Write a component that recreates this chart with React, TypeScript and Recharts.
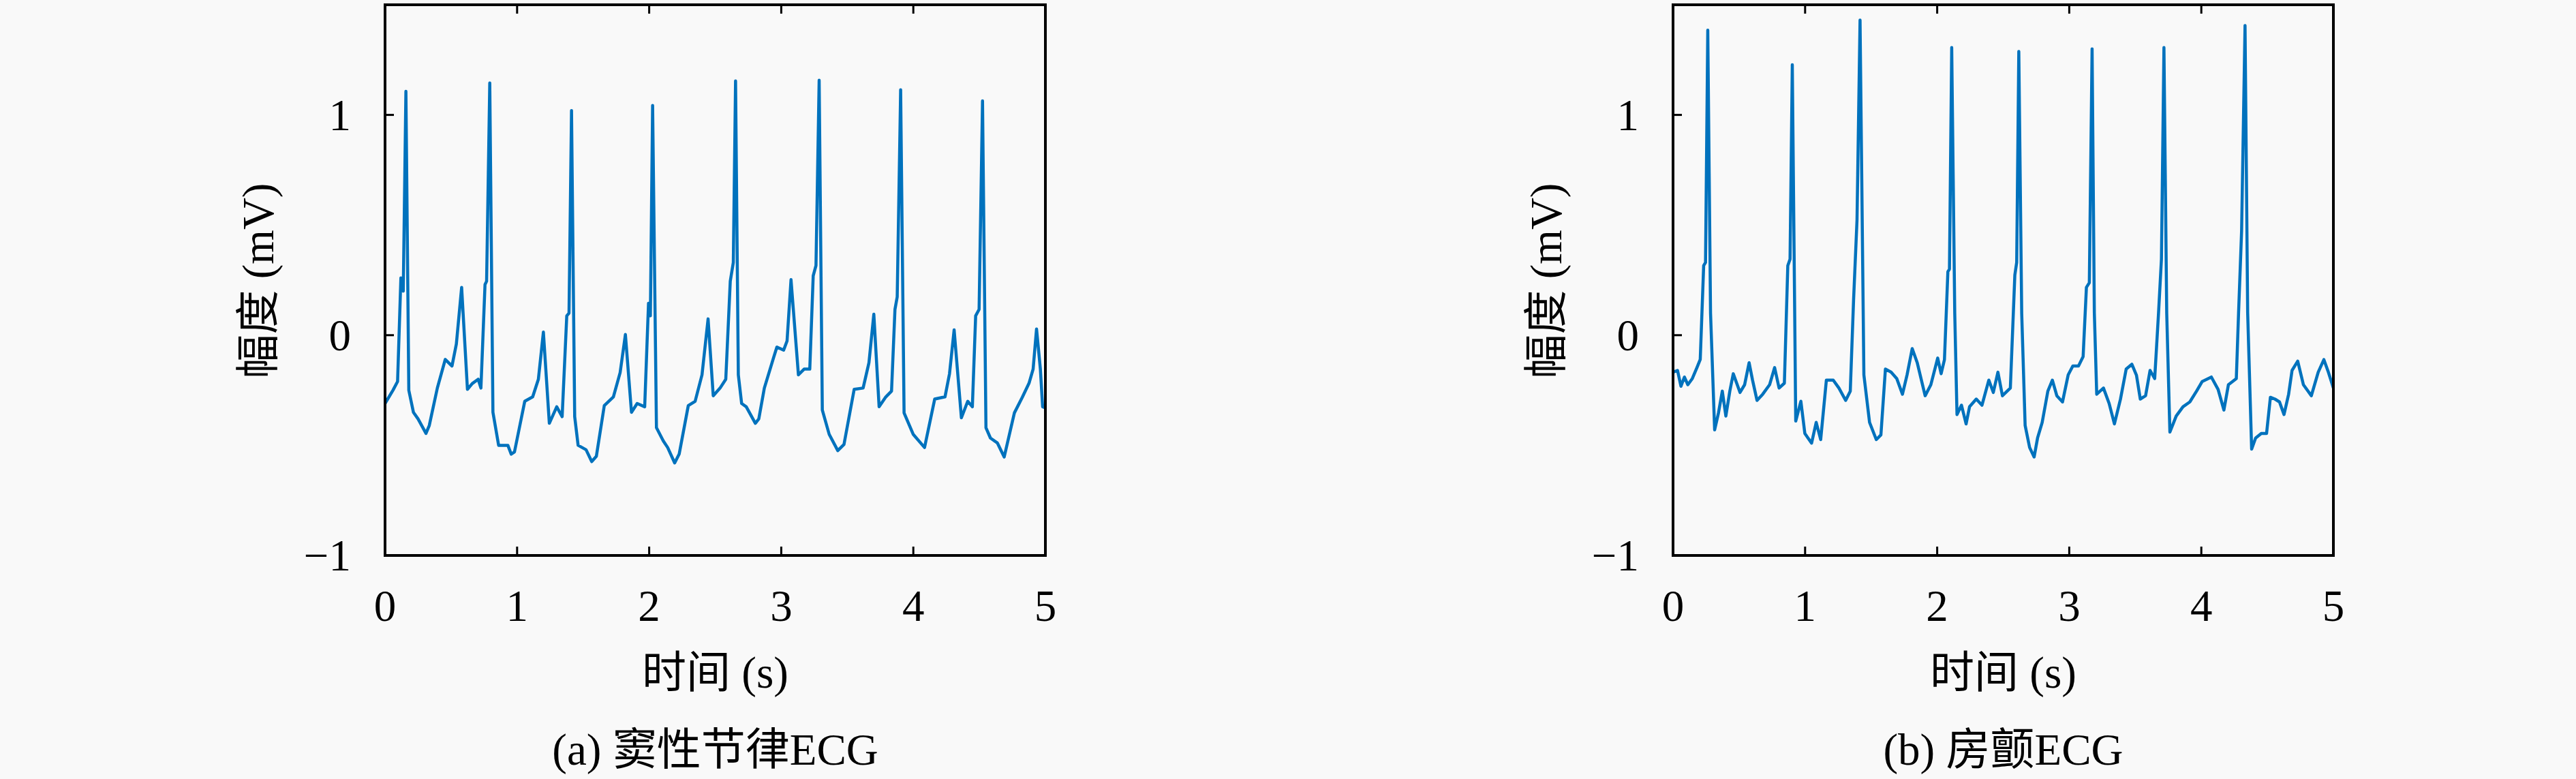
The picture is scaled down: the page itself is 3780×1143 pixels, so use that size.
import React from "react";
import { LineChart, Line, XAxis, YAxis } from "recharts";

// ECG traces: [time (s), amplitude (mV)]
const sinusEcg: [number, number][] = [
  [0.0, -0.31], [0.06, -0.25], [0.095, -0.21], [0.12, 0.26], [0.138, 0.2], [0.158, 1.107],
  [0.18, -0.25], [0.215, -0.35], [0.25, -0.38], [0.31, -0.446], [0.335, -0.41], [0.396, -0.24],
  [0.456, -0.11], [0.507, -0.14], [0.54, -0.04], [0.58, 0.217], [0.624, -0.246], [0.66, -0.22],
  [0.705, -0.2], [0.726, -0.24], [0.757, 0.23], [0.769, 0.245], [0.793, 1.145], [0.817, -0.35],
  [0.86, -0.5], [0.93, -0.5], [0.955, -0.54], [0.98, -0.53], [1.058, -0.3], [1.118, -0.28],
  [1.161, -0.2], [1.199, 0.014], [1.244, -0.4], [1.3, -0.325], [1.341, -0.37], [1.376, 0.088],
  [1.393, 0.1], [1.412, 1.02], [1.436, -0.37], [1.462, -0.5], [1.522, -0.52], [1.565, -0.574],
  [1.6, -0.55], [1.66, -0.32], [1.729, -0.28], [1.78, -0.17], [1.82, 0.003], [1.866, -0.35],
  [1.909, -0.31], [1.966, -0.325], [1.995, 0.145], [2.009, 0.088], [2.026, 1.043], [2.055, -0.42],
  [2.107, -0.48], [2.14, -0.51], [2.193, -0.58], [2.227, -0.54], [2.296, -0.32], [2.348, -0.3],
  [2.4, -0.18], [2.446, 0.074], [2.485, -0.275], [2.537, -0.24], [2.58, -0.2], [2.614, 0.245],
  [2.637, 0.33], [2.654, 1.154], [2.675, -0.18], [2.7, -0.31], [2.735, -0.325], [2.804, -0.4],
  [2.83, -0.38], [2.872, -0.24], [2.941, -0.104], [2.967, -0.054], [3.018, -0.068], [3.044, -0.026],
  [3.074, 0.252], [3.13, -0.18], [3.173, -0.154], [3.216, -0.154], [3.242, 0.27], [3.263, 0.316],
  [3.287, 1.157], [3.311, -0.34], [3.363, -0.45], [3.428, -0.524], [3.475, -0.496], [3.552, -0.246],
  [3.62, -0.24], [3.664, -0.125], [3.701, 0.095], [3.741, -0.325], [3.792, -0.28], [3.835, -0.254],
  [3.861, 0.117], [3.878, 0.174], [3.904, 1.114], [3.93, -0.353], [3.999, -0.45], [4.085, -0.51],
  [4.162, -0.29], [4.24, -0.28], [4.274, -0.175], [4.309, 0.024], [4.364, -0.375], [4.412, -0.3],
  [4.447, -0.325], [4.472, 0.088], [4.498, 0.117], [4.524, 1.064], [4.55, -0.42], [4.584, -0.467],
  [4.636, -0.489], [4.688, -0.553], [4.765, -0.353], [4.825, -0.282], [4.876, -0.218], [4.907, -0.154],
  [4.933, 0.028], [4.962, -0.154], [4.979, -0.325], [5.0, -0.33],
];

const afEcg: [number, number][] = [
  [0.0, -0.168], [0.034, -0.16], [0.06, -0.232], [0.086, -0.19], [0.112, -0.225], [0.146, -0.197],
  [0.181, -0.147], [0.206, -0.11], [0.232, 0.316], [0.246, 0.33], [0.263, 1.385], [0.284, 0.1],
  [0.315, -0.43], [0.344, -0.353], [0.373, -0.254], [0.4, -0.367], [0.43, -0.254], [0.456, -0.175],
  [0.482, -0.218], [0.507, -0.26], [0.542, -0.225], [0.576, -0.125], [0.602, -0.204], [0.636, -0.296],
  [0.679, -0.268], [0.731, -0.225], [0.769, -0.147], [0.803, -0.24], [0.843, -0.218], [0.869, 0.316],
  [0.886, 0.345], [0.903, 1.228], [0.929, -0.39], [0.968, -0.3], [0.998, -0.446], [1.049, -0.49],
  [1.084, -0.396], [1.118, -0.474], [1.161, -0.204], [1.213, -0.204], [1.256, -0.24], [1.307, -0.296],
  [1.342, -0.254], [1.367, 0.16], [1.393, 0.523], [1.416, 1.43], [1.445, -0.18], [1.488, -0.396],
  [1.539, -0.474], [1.574, -0.453], [1.608, -0.154], [1.651, -0.168], [1.694, -0.197], [1.737, -0.268],
  [1.772, -0.18], [1.811, -0.061], [1.849, -0.125], [1.909, -0.275], [1.952, -0.225], [2.004, -0.104],
  [2.03, -0.175], [2.055, -0.111], [2.081, 0.288], [2.093, 0.3], [2.11, 1.306], [2.133, 0.1],
  [2.15, -0.36], [2.184, -0.318], [2.219, -0.403], [2.245, -0.325], [2.296, -0.29], [2.339, -0.318],
  [2.391, -0.204], [2.425, -0.26], [2.46, -0.168], [2.494, -0.275], [2.554, -0.24], [2.588, 0.273],
  [2.602, 0.33], [2.618, 1.288], [2.64, 0.1], [2.666, -0.41], [2.7, -0.51], [2.734, -0.553],
  [2.76, -0.467], [2.795, -0.396], [2.838, -0.254], [2.872, -0.204], [2.906, -0.275], [2.949, -0.303],
  [2.992, -0.18], [3.027, -0.14], [3.07, -0.14], [3.105, -0.097], [3.13, 0.217], [3.152, 0.238],
  [3.173, 1.3], [3.19, 0.1], [3.208, -0.268], [3.259, -0.24], [3.302, -0.31], [3.342, -0.403],
  [3.388, -0.29], [3.431, -0.154], [3.474, -0.132], [3.509, -0.182], [3.538, -0.29], [3.578, -0.275],
  [3.612, -0.16], [3.647, -0.197], [3.676, 0.1], [3.698, 0.345], [3.717, 1.306], [3.738, 0.1],
  [3.762, -0.44], [3.81, -0.367], [3.861, -0.325], [3.913, -0.303], [3.964, -0.254], [4.007, -0.21],
  [4.076, -0.19], [4.127, -0.246], [4.171, -0.34], [4.205, -0.225], [4.265, -0.197], [4.282, 0.1],
  [4.305, 0.473], [4.331, 1.406], [4.351, 0.1], [4.381, -0.517], [4.411, -0.467], [4.454, -0.446],
  [4.494, -0.446], [4.523, -0.282], [4.557, -0.29], [4.592, -0.303], [4.626, -0.36], [4.661, -0.268],
  [4.687, -0.16], [4.73, -0.118], [4.773, -0.225], [4.833, -0.275], [4.885, -0.168], [4.928, -0.111],
  [4.962, -0.168], [5.0, -0.24],
];

const timeTicks = [0, 1, 2, 3, 4, 5];
const ampTicks = [-1, 0, 1];
const xLabel = "时间 (s)";
const yLabel = "幅度 (mV)";
const captions = ["(a) 窦性节律ECG", "(b) 房颤ECG"];

const BG = "#f9f9f9";
const LINE = "#0072bd";
const FONT = '"Liberation Serif", "Noto Sans CJK SC", serif';
const FS = 65;
const TICK_LEN = 13;

// layout (px)
const PANEL_W = 1890;
const CHART_H = 1243;
const SHIFT_Y = -100;
const PLOT_LEFT = 565;
const PLOT_W = 969;
const PLOT_TOP = 107;
const PLOT_H = 808;
const AXIS = 30;

const frame = { stroke: "#000", strokeWidth: 4, strokeLinecap: "square" as const };

function fmt(v: number) {
  return v < 0 ? `\u2212${Math.abs(v)}` : `${v}`;
}

function Tick(props: any) {
  const { x, y, payload, side } = props;
  const ln = { stroke: "#000", strokeWidth: 3 };
  if (side === "bottom") {
    return (
      <g>
        <line x1={x} y1={y} x2={x} y2={y - TICK_LEN} {...ln} />
        <text x={x} y={y + 96} textAnchor="middle" fontSize={FS} fontFamily={FONT} fill="#000">
          {fmt(payload.value)}
        </text>
      </g>
    );
  }
  if (side === "left") {
    return (
      <g>
        <line x1={x} y1={y} x2={x + TICK_LEN} y2={y} {...ln} />
        <text x={x - 50} y={y + 22} textAnchor="end" fontSize={FS} fontFamily={FONT} fill="#000">
          {fmt(payload.value)}
        </text>
      </g>
    );
  }
  if (side === "top") {
    return <line x1={x} y1={y} x2={x} y2={y + TICK_LEN} {...ln} />;
  }
  return <line x1={x} y1={y} x2={x - TICK_LEN} y2={y} {...ln} />;
}

function Panel({ samples, caption, index }: { samples: [number, number][]; caption: string; index: number }) {
  const data = samples.map(([t, v]) => ({ t, v }));
  const cx = PLOT_LEFT + PLOT_W / 2;
  const textStyle: React.CSSProperties = {
    position: "absolute",
    transform: "translate(-50%, -50%)",
    whiteSpace: "nowrap",
    fontFamily: FONT,
    fontSize: FS,
    lineHeight: 1,
    color: "#000",
  };
  return (
    <div style={{ position: "absolute", left: index * PANEL_W, top: 0, width: PANEL_W, height: 1143 }}>
      <div style={{ position: "absolute", left: 0, top: SHIFT_Y }}>
        <LineChart
          width={PANEL_W}
          height={CHART_H}
          data={data}
          margin={{
            top: PLOT_TOP - AXIS,
            left: PLOT_LEFT - AXIS,
            right: PANEL_W - PLOT_LEFT - PLOT_W - AXIS,
            bottom: CHART_H - PLOT_TOP - PLOT_H - AXIS,
          }}
        >
          <XAxis
            type="number"
            dataKey="t"
            domain={[0, 5]}
            ticks={timeTicks}
            interval={0}
            height={AXIS}
            tickSize={0}
            tickMargin={0}
            tickLine={false}
            axisLine={frame}
            tick={<Tick side="bottom" />}
          />
          <XAxis
            xAxisId="top"
            orientation="top"
            type="number"
            dataKey="t"
            domain={[0, 5]}
            ticks={timeTicks}
            interval={0}
            height={AXIS}
            tickSize={0}
            tickMargin={0}
            tickLine={false}
            axisLine={frame}
            tick={<Tick side="top" />}
          />
          <YAxis
            type="number"
            domain={[-1, 1.5]}
            ticks={ampTicks}
            interval={0}
            width={AXIS}
            tickSize={0}
            tickMargin={0}
            tickLine={false}
            axisLine={frame}
            tick={<Tick side="left" />}
          />
          <YAxis
            yAxisId="right"
            orientation="right"
            type="number"
            domain={[-1, 1.5]}
            ticks={ampTicks}
            interval={0}
            width={AXIS}
            tickSize={0}
            tickMargin={0}
            tickLine={false}
            axisLine={frame}
            tick={<Tick side="right" />}
          />
          <Line
            type="linear"
            dataKey="v"
            stroke={LINE}
            strokeWidth={4.5}
            strokeLinejoin="round"
            dot={false}
            activeDot={false}
            isAnimationActive={false}
          />
        </LineChart>
      </div>
      <div style={{ ...textStyle, left: 379, top: 412, transform: "translate(-50%, -50%) rotate(-90deg)" }}>
        {yLabel}
      </div>
      <div style={{ ...textStyle, left: cx, top: 987 }}>{xLabel}</div>
      <div style={{ ...textStyle, left: cx, top: 1100 }}>{caption}</div>
    </div>
  );
}

export default function App() {
  const series = [sinusEcg, afEcg];
  return (
    <div
      style={{
        position: "absolute",
        left: 0,
        top: 0,
        width: 3780,
        height: 1143,
        background: BG,
        overflow: "hidden",
      }}
    >
      {series.map((s, i) => (
        <Panel key={i} samples={s} caption={captions[i]} index={i} />
      ))}
    </div>
  );
}
